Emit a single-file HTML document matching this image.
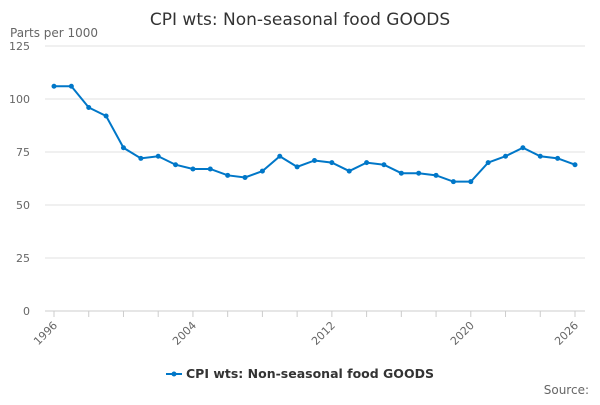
<!DOCTYPE html>
<html><head><meta charset="utf-8"><style>
body{margin:0;background:#fff;font-family:"Liberation Sans","DejaVu Sans",sans-serif}
svg text{font-family:"DejaVu Sans","Liberation Sans",sans-serif}
</style></head><body>
<svg id="c" width="600" height="400">
<text x="300" y="25" text-anchor="middle" font-size="17" fill="#333">CPI wts: Non-seasonal food GOODS</text>
<text x="10" y="37" font-size="12" fill="#666">Parts per 1000</text>
<g id="grid"></g><g id="xa"></g><g id="series"></g>
<g>
<line x1="166" y1="374" x2="182" y2="374" stroke="#0077c8" stroke-width="2"/>
<circle cx="174" cy="374" r="2.5" fill="#0077c8"/>
<text x="186" y="378" font-size="12.5" font-weight="bold" fill="#333">CPI wts: Non-seasonal food GOODS</text>
</g>
<text x="589" y="394" text-anchor="end" font-size="12" fill="#666">Source:</text>
</svg>
<script>
const years=[1996,1997,1998,1999,2000,2001,2002,2003,2004,2005,2006,2007,2008,2009,2010,2011,2012,2013,2014,2015,2016,2017,2018,2019,2020,2021,2022,2023,2024,2025,2026];
const values=[106,106,96,92,77,72,73,69,67,67,64,63,66,73,68,71,70,66,70,69,65,65,64,61,61,70,73,77,73,72,69];
const yTicks=[0,25,50,75,100,125];
const xLabels=[1996,2004,2012,2020,2026];
const NS="http://www.w3.org/2000/svg";
const xs=y=>54+(y-1996)*(575-54)/30;
const ys=v=>311-v*(265/125);
function mk(t,a,p){const e=document.createElementNS(NS,t);for(const k in a)e.setAttribute(k,a[k]);p.appendChild(e);return e;}
const g=document.getElementById('grid');
yTicks.forEach(v=>{
 const l=mk('line',{x1:45,x2:585,y1:ys(v),y2:ys(v),stroke:v?'#e0e0e0':'#ccc','stroke-width':1},g);
 
 
 const t=mk('text',{x:30,y:ys(v)+4,'text-anchor':'end','font-size':11,fill:'#666'},g);
 t.textContent=v;
 
 
});
const xa=document.getElementById('xa');
for(let y=1996;y<=2026;y+=2){
 const l=mk('line',{x1:xs(y),x2:xs(y),y1:311,y2:317,stroke:'#ccc'},xa);
 
 
}
xLabels.forEach(y=>{
 const t=mk('text',{x:xs(y)+4,y:326,'text-anchor':'end','font-size':11,fill:'#666',transform:`rotate(-45 ${xs(y)+4} 326)`},xa);
 t.textContent=y;
 
 
});
const s=document.getElementById('series');
const pl=mk('polyline',{points:years.map((y,i)=>xs(y)+','+ys(values[i])).join(' '),fill:'none',stroke:'#0077c8','stroke-width':2},s);


years.forEach((y,i)=>{
 const c=mk('circle',{cx:xs(y),cy:ys(values[i]),r:2.5,fill:'#0077c8'},s);
 
 
});
</script>
</body></html>
